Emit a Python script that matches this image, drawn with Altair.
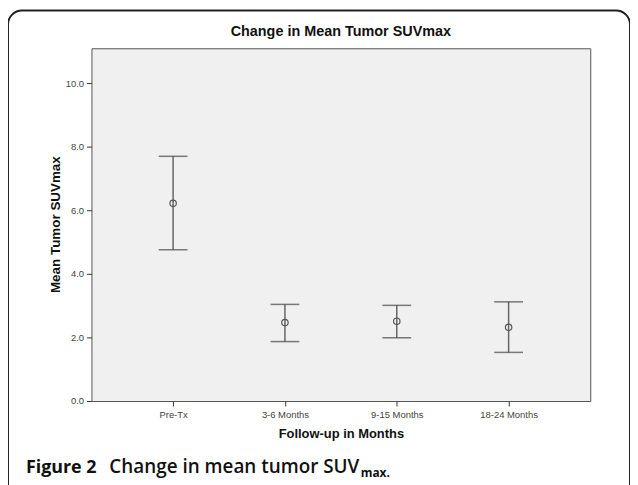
import altair as alt
import pandas as pd

categories = ["Pre-Tx", "3-6 Months", "9-15 Months", "18-24 Months"]
means = [6.22, 2.47, 2.51, 2.32]
lower = [4.76, 1.87, 1.99, 1.53]
upper = [7.70, 3.04, 3.01, 3.12]
y_ticks = [0, 2, 4, 6, 8, 10]

df = pd.DataFrame({"period": categories, "mean": means, "lower": lower, "upper": upper})

W, H = 502, 355

y_scale = alt.Scale(domain=[0, 11.1], nice=False, zero=True)
x_scale = alt.Scale(type="point", padding=0.73, domain=categories)

y_axis = alt.Axis(
    title="Mean Tumor SUVmax", values=y_ticks, format=".1f", grid=False, domain=False,
    labelFont="Arial", labelFontSize=9.5, labelColor="#444", labelPadding=3,
    tickSize=5, tickColor="#333",
    titleFont="Arial", titleFontSize=13.5, titleFontWeight="bold", titleColor="#111",
    titleX=-36, titleY=177, titleAngle=-90, titleAlign="center", titleBaseline="middle",
)
x_axis = alt.Axis(
    title="Follow-up in Months", grid=False, domain=False, labelAngle=0,
    labelFont="Arial", labelFontSize=9.5, labelColor="#444", labelPadding=4,
    tickSize=5, tickColor="#333",
    titleFont="Arial", titleFontSize=13, titleFontWeight="bold", titleColor="#111",
    titleX=W / 2, titleY=33, titleAlign="center", titleBaseline="middle",
)

base = alt.Chart(df)
x_enc = alt.X("period:N", sort=categories, scale=x_scale, axis=x_axis)

rules = base.mark_rule(color="#666", strokeWidth=1.5).encode(
    x=x_enc,
    y=alt.Y("lower:Q", scale=y_scale, axis=y_axis),
    y2="upper:Q",
)
cap_low = base.mark_tick(color="#444", size=29, thickness=1.5).encode(
    x=x_enc, y=alt.Y("lower:Q", scale=y_scale, axis=y_axis)
)
cap_high = base.mark_tick(color="#444", size=29, thickness=1.5).encode(
    x=x_enc, y=alt.Y("upper:Q", scale=y_scale, axis=y_axis)
)
pts = base.mark_point(shape="circle", filled=False, size=42, color="#555", strokeWidth=1.2, opacity=1).encode(
    x=x_enc, y=alt.Y("mean:Q", scale=y_scale, axis=y_axis)
)

one = alt.Data(values=[{"k": 1}])
frame = alt.Chart(one).mark_rect(
    fillOpacity=0, stroke="#222", strokeWidth=2, cornerRadius=14
).encode(x=alt.value(-84), x2=alt.value(542), y=alt.value(-38), y2=alt.value(470))

title = alt.Chart(one).mark_text(
    font="Arial", fontSize=14.5, fontWeight="bold", color="#111", align="center", baseline="middle"
).encode(x=alt.value(W / 2), y=alt.value(-16), text=alt.value("Change in Mean Tumor SUVmax"))

cap1 = alt.Chart(one).mark_text(
    font="Open Sans", fontSize=18, fontWeight="bold", color="#111", align="left", baseline="alphabetic"
).encode(x=alt.value(-66), y=alt.value(427), text=alt.value("Figure 2"))
cap2 = alt.Chart(one).mark_text(
    font="Open Sans", fontSize=19, fontWeight=600, color="#111", align="left", baseline="alphabetic"
).encode(x=alt.value(18), y=alt.value(427), text=alt.value("Change in mean tumor SUV"))
cap3 = alt.Chart(one).mark_text(
    font="Open Sans", fontSize=12, fontWeight="bold", color="#111", align="left", baseline="alphabetic"
).encode(x=alt.value(271), y=alt.value(431), text=alt.value("max."))

chart = alt.layer(rules, cap_low, cap_high, pts, frame, title, cap1, cap2, cap3).properties(
    width=W, height=H,
    autosize=alt.AutoSizeParams(type="none"),
    padding={"left": 84, "top": 39, "right": 40, "bottom": 83},
).configure_view(fill="#f0f0f0", stroke="#555", strokeWidth=1)

chart.save("out.html", embed_options={"renderer": "svg", "actions": False})
